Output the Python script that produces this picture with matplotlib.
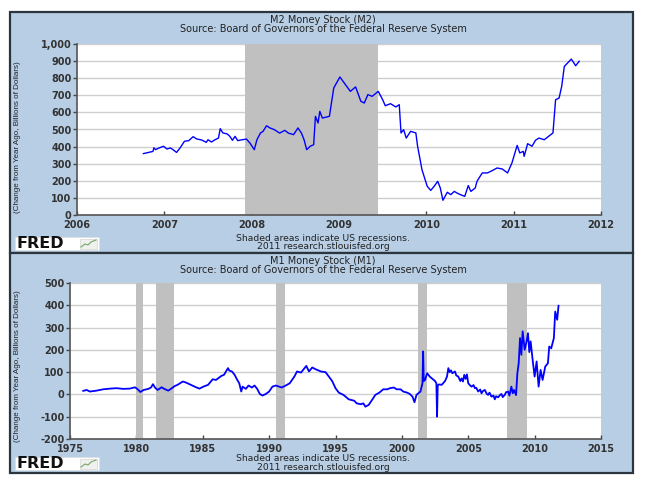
import matplotlib
matplotlib.use("Agg")
import matplotlib.pyplot as plt
from matplotlib.patches import Rectangle
from matplotlib.lines import Line2D
from matplotlib.ticker import FuncFormatter

plt.rcParams['axes.unicode_minus'] = False

# M2 money stock, change from year ago (billions of dollars)
m2_year = [2006.76, 2006.82, 2006.87, 2006.88, 2006.90, 2006.93, 2006.99, 2007.03,
           2007.07, 2007.10, 2007.14, 2007.18, 2007.23, 2007.28, 2007.33, 2007.37,
           2007.43, 2007.48, 2007.50, 2007.54, 2007.58, 2007.62, 2007.64, 2007.67,
           2007.72, 2007.75, 2007.78, 2007.81, 2007.84, 2007.89, 2007.94, 2007.98,
           2008.03, 2008.06, 2008.10, 2008.13, 2008.17, 2008.21, 2008.26, 2008.32,
           2008.38, 2008.42, 2008.48, 2008.53, 2008.57, 2008.60, 2008.63, 2008.67,
           2008.71, 2008.73, 2008.76, 2008.78, 2008.81, 2008.89, 2008.94, 2009.01,
           2009.06, 2009.13, 2009.19, 2009.25, 2009.29, 2009.33, 2009.38, 2009.45,
           2009.50, 2009.53, 2009.59, 2009.65, 2009.69, 2009.71, 2009.74, 2009.77,
           2009.82, 2009.88, 2009.90, 2009.95, 2010.01, 2010.05, 2010.09, 2010.13,
           2010.16, 2010.19, 2010.24, 2010.28, 2010.32, 2010.35, 2010.39, 2010.44,
           2010.48, 2010.51, 2010.56, 2010.58, 2010.64, 2010.70, 2010.76, 2010.81,
           2010.87, 2010.93, 2010.98, 2011.04, 2011.07, 2011.11, 2011.12, 2011.16,
           2011.21, 2011.25, 2011.29, 2011.35, 2011.40, 2011.45, 2011.48, 2011.52,
           2011.55, 2011.58, 2011.61, 2011.66, 2011.71, 2011.75]
m2_value = [359, 366, 372, 393, 382, 390, 402, 386,
            392, 382, 366, 392, 431, 435, 458, 445,
            438, 425, 440, 427, 440, 450, 505, 480,
            474, 460, 437, 460, 435, 440, 444, 421,
            382, 440, 479, 489, 522, 509, 499, 479,
            495, 479, 470, 509, 479, 440, 382, 402,
            411, 577, 538, 606, 567, 577, 743, 807,
            772, 723, 749, 665, 655, 704, 694, 723,
            674, 639, 651, 632, 645, 480, 499, 450,
            489, 480, 402, 265, 168, 144, 168, 197,
            158, 86, 133, 119, 138, 129, 119, 109,
            172, 138, 158, 197, 246, 246, 261, 275,
            269, 246, 304, 407, 363, 372, 343, 417,
            402, 437, 450, 440, 460, 480, 674, 684,
            752, 869, 885, 912, 873, 899]

# M1 money stock, change from year ago (billions of dollars)
m1_year = [1976.0, 1976.25, 1976.5, 1976.75, 1977.0, 1977.5, 1978.0, 1978.5, 1979.0, 1979.5,
           1979.9, 1980.1, 1980.3, 1980.55, 1980.9, 1981.1, 1981.25, 1981.4, 1981.6, 1981.9,
           1982.1, 1982.4, 1982.6, 1982.9, 1983.1, 1983.5, 1983.75, 1984.1, 1984.5, 1984.75,
           1985.05, 1985.4, 1985.75, 1986.0, 1986.4, 1986.6, 1986.9, 1987.0, 1987.2, 1987.4,
           1987.6, 1987.75, 1987.9, 1988.0, 1988.25, 1988.45, 1988.7, 1988.9, 1989.1, 1989.3,
           1989.5, 1989.75, 1990.0, 1990.25, 1990.5, 1990.75, 1990.95, 1991.25, 1991.55, 1991.9,
           1992.1, 1992.4, 1992.6, 1992.8, 1993.0, 1993.25, 1993.5, 1993.9, 1994.25, 1994.5,
           1994.75, 1995.0, 1995.25, 1995.6, 1996.0, 1996.4, 1996.6, 1996.9, 1997.1, 1997.25,
           1997.5, 1997.75, 1998.0, 1998.3, 1998.6, 1998.9, 1999.1, 1999.4, 1999.6, 1999.9,
           2000.1, 2000.4, 2000.6, 2000.8, 2000.95, 2001.1, 2001.4, 2001.55, 2001.6, 2001.65,
           2001.75, 2001.9, 2002.1, 2002.3, 2002.5, 2002.6, 2002.65, 2002.7, 2002.8, 2003.0,
           2003.25, 2003.4, 2003.5, 2003.6, 2003.7, 2003.8, 2004.0, 2004.1, 2004.25, 2004.4,
           2004.5, 2004.6, 2004.7, 2004.8, 2004.9, 2005.0, 2005.15, 2005.25, 2005.4, 2005.5,
           2005.6, 2005.75, 2005.9, 2006.0, 2006.1, 2006.25, 2006.4, 2006.5, 2006.6, 2006.75,
           2006.9, 2007.0, 2007.1, 2007.25, 2007.4, 2007.5, 2007.6, 2007.75, 2007.85, 2008.0,
           2008.1, 2008.25, 2008.35, 2008.45, 2008.6, 2008.7, 2008.8, 2008.9, 2009.0, 2009.1,
           2009.25, 2009.4, 2009.5, 2009.6, 2009.7, 2009.85, 2010.0, 2010.15, 2010.3, 2010.45,
           2010.6, 2010.8, 2011.0, 2011.1, 2011.25, 2011.45, 2011.55, 2011.7, 2011.8]
m1_value = [16, 20, 13, 15, 17, 23, 26, 28, 25, 26,
            32, 23, 11, 20, 25, 31, 46, 31, 20, 32,
            25, 17, 25, 38, 43, 58, 53, 43, 32, 26,
            35, 43, 68, 65, 83, 88, 118, 107, 103, 88,
            65, 50, 13, 35, 25, 40, 31, 40, 25, 2,
            -5, 2, 13, 35, 40, 35, 31, 40, 50, 80,
            103, 98, 113, 128, 103, 121, 113, 103, 100, 80,
            60, 28, 8, -2, -22, -28, -40, -44, -40, -55,
            -47, -25, -2, 8, 23, 23, 28, 31, 23, 23,
            13, 8, 2, -10, -35, -2, 13, 50, 193, 60,
            65, 95, 80, 70, 60, 50, -100, 40, 45, 43,
            60, 80, 118, 100, 108, 95, 103, 85, 80, 60,
            72, 58, 88, 70, 90, 50, 40, 35, 42, 28,
            30, 13, 22, 5, 15, 20, 2, -2, 8, -10,
            -5, -22, -8, -13, -2, 2, -12, -2, 10, 13,
            -5, 35, 5, 20, -3, 95, 140, 253, 178, 283,
            200, 240, 275, 190, 238, 155, 80, 148, 35, 110,
            65, 125, 140, 215, 207, 253, 372, 335, 398]

# NBER recessions (start, end)
recessions = [(1980.0, 1980.5), (1981.5, 1982.87), (1990.5, 1991.2),
              (2001.2, 2001.87), (2007.92, 2009.45)]

W, H = 646, 482
PANEL_BG = '#B7CEE5'
BORDER = '#2B3540'
TXT = '#222222'

fig = plt.figure(figsize=(W / 100, H / 100), dpi=100)
fig.patch.set_facecolor('white')


def box(x0, y0, x1, y1):
    return [x0 / W, 1 - y1 / H, (x1 - x0) / W, (y1 - y0) / H]


def fx(x):
    return x / W


def fy(y):
    return 1 - y / H


def fred_logo(y):
    fig.patches.append(Rectangle((fx(15), fy(y + 13)), fx(84), 13 / H,
                                 transform=fig.transFigure, facecolor='white',
                                 edgecolor='#dddddd', lw=0.5, zorder=3))
    fig.text(fx(16), fy(y + 7), 'FRED', fontsize=11.5, fontweight='heavy',
             color='#111111', va='center', ha='left', zorder=4)
    fig.patches.append(Rectangle((fx(80), fy(y + 12)), fx(17), 10 / H,
                                 transform=fig.transFigure, facecolor='#eef1ee',
                                 edgecolor='#cccccc', lw=0.4, zorder=4))
    fig.lines.append(Line2D([fx(81), fx(85), fx(88), fx(91), fx(96)],
                            [fy(y + 10), fy(y + 7), fy(y + 8), fy(y + 5), fy(y + 3)],
                            transform=fig.transFigure, color='#7aa36a', lw=0.8, zorder=5))


def panel(y0, y1, ax_rect, title, years, values, xlim, xticks, ylim, yticks, lw, label_xy):
    fig.patches.append(Rectangle((fx(10), fy(y1)), fx(623), (y1 - y0) / H,
                                 transform=fig.transFigure, facecolor=PANEL_BG,
                                 edgecolor=BORDER, lw=1.6, zorder=-10))
    fig.text(fx(323), fy(y0 + 8), title, ha='center', va='center',
             fontsize=7.0, color=TXT)
    fig.text(fx(323), fy(y0 + 17), 'Source: Board of Governors of the Federal Reserve System',
             ha='center', va='center', fontsize=7.0, color=TXT)
    fig.text(fx(323), fy(y1 - 14.5), 'Shaded areas indicate US recessions.',
             ha='center', va='center', fontsize=6.7, color=TXT)
    fig.text(fx(323), fy(y1 - 6), '2011 research.stlouisfed.org',
             ha='center', va='center', fontsize=6.7, color=TXT)
    fred_logo(y1 - 16)

    ax = fig.add_axes(box(*ax_rect))
    ax.set_facecolor('white')
    for s, e in recessions:
        if e > xlim[0] and s < xlim[1]:
            ax.axvspan(max(s, xlim[0]), min(e, xlim[1]), color='#C0C0C0', lw=0, zorder=1)
    ax.plot(years, values, color='#0000FF', lw=lw, zorder=3)
    ax.set_xlim(*xlim)
    ax.set_ylim(*ylim)
    ax.set_xticks(xticks)
    ax.set_yticks(yticks)
    ax.yaxis.set_major_formatter(FuncFormatter(lambda v, p: f'{int(v):,}'))
    ax.grid(axis='y', color='#CFCFCF', lw=1.0, zorder=0)
    ax.set_axisbelow(True)
    for side in ['top', 'right']:
        ax.spines[side].set_visible(False)
    for side in ['left', 'bottom']:
        ax.spines[side].set_color('#555555')
        ax.spines[side].set_linewidth(1.2)
    ax.tick_params(axis='x', direction='in', length=3, width=1, color='#444444',
                   pad=3.5, labelsize=7, labelcolor='#333333')
    ax.tick_params(axis='y', direction='out', length=3, width=1, color='#444444',
                   pad=1, labelsize=7, labelcolor='#333333')
    for lab in ax.get_xticklabels() + ax.get_yticklabels():
        lab.set_fontweight('bold')
    ax.set_ylabel('(Change from Year Ago, Billions of Dollars)',
                  family=['Liberation Sans', 'DejaVu Sans'], fontsize=5.8, color=TXT)
    ax.yaxis.set_label_coords(*label_xy)
    return ax


ax1 = panel(12, 253, (77, 44, 601, 215), 'M2 Money Stock (M2)', m2_year, m2_value,
            (2006, 2012), range(2006, 2013), (0, 1000), range(0, 1001, 100), 1.0,
            (-0.107, 0.455))
ax2 = panel(253, 473, (70, 283, 601, 439), 'M1 Money Stock (M1)', m1_year, m1_value,
            (1975, 2015), range(1975, 2016, 5), (-200, 500), range(-200, 501, 100), 1.3,
            (-0.092, 0.47))

fig.savefig('out.png', dpi=100, facecolor='white')
